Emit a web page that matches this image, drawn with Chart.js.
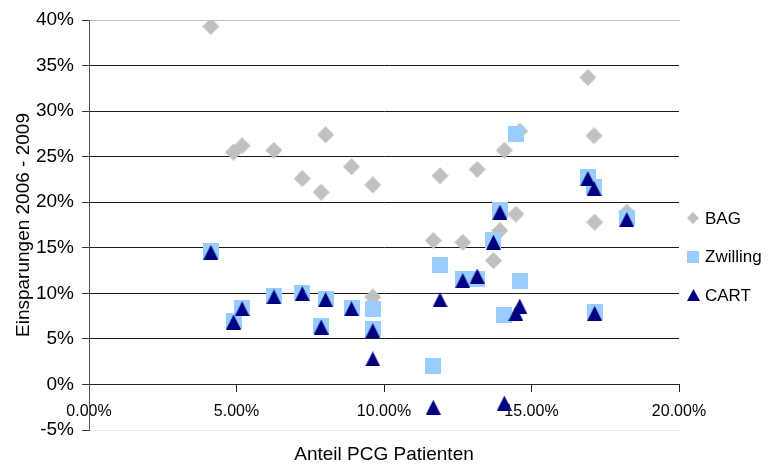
<!DOCTYPE html>
<html>
<head>
<meta charset="utf-8">
<script src="https://cdn.jsdelivr.net/npm/chart.js@4/dist/chart.umd.min.js"></script>
<style>
  html, body { margin: 0; padding: 0; background: #fff; }
  #wrap { width: 770px; height: 466px; }
</style>
</head>
<body>
<div id="wrap"><canvas id="c" width="770" height="466"></canvas></div>
<script>
// Anteil PCG Patienten per entity (percent)
const anteil   = [4.13, 4.90, 5.19, 6.27, 7.23, 7.87, 8.02, 8.90, 9.62, 9.62, 11.67, 11.90, 12.67, 13.16, 13.71, 13.93, 14.08, 14.47, 14.60, 16.91, 17.12, 17.14, 18.23];
// Einsparungen 2006 - 2009 (percent) per method
const bag      = [39.3, 25.5, 26.2, 25.7, 22.6, 21.1, 27.4, 23.9, 21.9, 9.6, 15.8, 22.9, 15.6, 23.6, 13.6, 16.9, 25.7, 18.7, 27.8, 33.7, 27.3, 17.8, 18.9];
const zwilling = [14.7, 7.0, 8.4, 9.7, 10.0, 6.4, 9.4, 8.4, 6.1, 8.3, 2.0, 13.1, 11.6, 11.6, 15.9, 19.1, 7.6, 27.5, 11.3, 22.8, 21.7, 8.0, 18.3];
const cart     = [14.5, 6.85, 8.3, 9.6, 9.96, 6.3, 9.3, 8.3, 5.9, 2.8, -2.5, 9.3, 11.4, 11.9, 15.6, 18.9, -2.05, 7.8, 8.6, 22.6, 21.5, 7.8, 18.1];

const seriesNames = ['BAG', 'Zwilling', 'CART'];
const xTicks = [0, 5, 10, 15, 20];
const yTicks = [-5, 0, 5, 10, 15, 20, 25, 30, 35, 40];

const FONT = '"Liberation Sans", Arial, Helvetica, sans-serif';

// Marker sprites
function makeMarker(kind, w, h, color) {
  const cv = document.createElement('canvas');
  cv.width = w; cv.height = h;
  const g = cv.getContext('2d');
  g.fillStyle = color;
  g.beginPath();
  if (kind === 'diamond') {
    g.moveTo(w / 2, 0); g.lineTo(w, h / 2); g.lineTo(w / 2, h); g.lineTo(0, h / 2);
  } else if (kind === 'triangle') {
    g.moveTo(w / 2, 0); g.lineTo(w, h); g.lineTo(0, h);
  } else {
    g.rect(0, 0, w, h);
  }
  g.closePath();
  g.fill();
  return cv;
}

const styles = [
  { kind: 'diamond',  color: '#c0c0c0', plot: [17, 17], legend: [12, 12] },
  { kind: 'square',   color: '#99ccff', plot: [16, 16], legend: [12, 12] },
  { kind: 'triangle', color: '#000080', plot: [15, 15], legend: [13, 12] }
];
styles.forEach(s => {
  s.plotImg = makeMarker(s.kind, s.plot[0], s.plot[1], s.color);
  s.legendImg = makeMarker(s.kind, s.legend[0], s.legend[1], s.color);
});

function pairs(ys) {
  return anteil.map((x, i) => ({ x: x, y: ys[i] }));
}
const seriesValues = [bag, zwilling, cart];

const datasets = seriesNames.map((name, i) => ({
  label: name,
  data: pairs(seriesValues[i]),
  xAxisID: 'x',
  yAxisID: 'y',
  pointStyle: styles[i].plotImg,
  pointRadius: 8,
  pointHoverRadius: 8,
  backgroundColor: styles[i].color,
  borderColor: styles[i].color,
  showLine: false,
  order: 3 - i
}));

// Legend at the right of the plot
const sideLegend = {
  id: 'sideLegend',
  afterDraw(chart) {
    const ctx = chart.ctx;
    ctx.save();
    ctx.font = '17px ' + FONT;
    ctx.fillStyle = '#000';
    ctx.textBaseline = 'middle';
    ctx.textAlign = 'left';
    seriesNames.forEach((name, i) => {
      const cy = 218 + i * 38.5;
      const img = styles[i].legendImg;
      ctx.drawImage(img, Math.round(693 - img.width / 2), Math.round(cy - img.height / 2));
      ctx.fillText(name, 705, cy + 1);
    });
    ctx.restore();
  }
};

new Chart(document.getElementById('c'), {
  type: 'scatter',
  data: { datasets: datasets },
  plugins: [sideLegend],
  options: {
    responsive: false,
    animation: false,
    events: [],
    layout: { padding: { top: 20, left: 0, right: 91, bottom: 0 } },
    plugins: { legend: { display: false }, tooltip: { enabled: false } },
    scales: {
      x: {
        type: 'linear',
        position: { y: 0 },
        min: 0, max: 20,
        afterBuildTicks: (s) => { s.ticks = xTicks.map(v => ({ value: v })); },
        ticks: {
          callback: (v) => v.toFixed(2) + '%',
          font: { family: FONT, size: 16 },
          color: '#000',
          padding: 11,
          maxRotation: 0
        },
        grid: { drawOnChartArea: false, drawTicks: true, tickLength: 7, color: '#222', tickColor: '#222' },
        border: { display: true, color: '#222', width: 1 }
      },
      x2: {
        type: 'linear',
        position: 'bottom',
        min: 0, max: 1,
        ticks: { display: false },
        grid: { display: false, drawTicks: false },
        border: { display: false },
        title: {
          display: true,
          text: 'Anteil PCG Patienten',
          font: { family: FONT, size: 19 },
          color: '#000',
          padding: { top: 0, bottom: 0 }
        },
        afterFit: (s) => { s.height = 36; }
      },
      y: {
        type: 'linear',
        position: 'left',
        min: -5, max: 40,
        afterBuildTicks: (s) => { s.ticks = yTicks.map(v => ({ value: v })); },
        ticks: {
          callback: (v) => v + '%',
          font: { family: FONT, size: 19 },
          color: '#000',
          padding: 8
        },
        grid: {
          color: (c) => {
            const v = c.tick ? c.tick.value : null;
            if (v === 40) return '#c0c0c0';
            if (v === -5) return '#e6e6e6';
            return '#1a1a1a';
          },
          tickColor: '#333',
          tickLength: 7,
          lineWidth: 1
        },
        border: { display: true, color: '#555', width: 1 },
        title: {
          display: true,
          text: 'Einsparungen 2006 - 2009',
          font: { family: FONT, size: 19 },
          color: '#000',
          padding: { top: 12, bottom: 0 }
        },
        afterFit: (s) => { s.width = 89; }
      }
    }
  }
});
</script>
</body>
</html>
